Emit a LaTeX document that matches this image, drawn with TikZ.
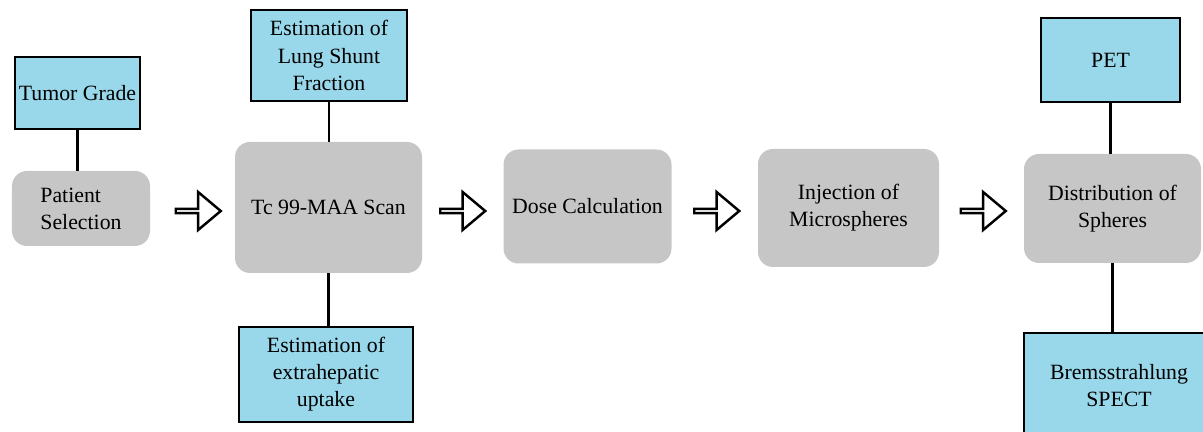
\documentclass[tikz,border=0pt]{standalone}
\usepackage{fontspec}
\setmainfont{Liberation Serif}
\usetikzlibrary{shapes.arrows}
\definecolor{boxblue}{RGB}{153,216,234}
\definecolor{boxgray}{RGB}{198,198,198}

\begin{document}
\begin{tikzpicture}[
    font=\rmfamily\fontsize{12.4}{15.4}\selectfont,
    bluebox/.style={draw, line width=1.6pt, fill=boxblue, align=center, inner sep=2pt},
    graybox/.style={fill=boxgray, rounded corners=0.3cm, align=center},
    link/.style={line width=1.6pt},
    flowarrow/.style={single arrow, draw, line width=1.4pt, fill=white, inner sep=0pt,
      minimum width=0.76cm, minimum height=0.9cm, single arrow head extend=0.2cm,
      single arrow tip angle=80}
  ]
        \useasboundingbox (0,0) rectangle (24.06,-8.64);

        \node[graybox, minimum width=2.76cm, minimum height=1.5cm, align=left] (select) at (1.62,-4.17) {Patient\\Selection};
        \node[graybox, minimum width=3.74cm, minimum height=2.62cm] (scan) at (6.57,-4.15) {Tc 99-MAA Scan};
        \node[graybox, minimum width=3.36cm, minimum height=2.28cm] (dose) at (11.75,-4.13) {Dose Calculation};
        \node[graybox, minimum width=3.62cm, minimum height=2.36cm] (inject) at (16.97,-4.16) {Injection of\\Microspheres};
        \node[graybox, minimum width=3.54cm, minimum height=2.18cm] (spread) at (22.25,-4.17) {Distribution of\\Spheres};

        \node[bluebox, minimum width=2.5cm, minimum height=1.44cm] (grade) at (1.55,-1.86) {Tumor Grade};
        \node[bluebox, minimum width=3.12cm, minimum height=1.82cm] (shunt) at (6.58,-1.11) {Estimation of\\Lung Shunt\\Fraction};
        \node[bluebox, minimum width=3.48cm, minimum height=1.9cm] (uptake) at (6.52,-7.49) {Estimation of\\extrahepatic\\uptake};
        \node[bluebox, minimum width=2.78cm, minimum height=1.68cm] (pet) at (22.21,-1.2) {PET};
        \node[bluebox, minimum width=3.8cm, minimum height=2.1cm] (brems) at (22.38,-7.71) {Bremsstrahlung\\SPECT};

        \draw[link] (grade.south) -- (grade.south |- select.north);
        \draw[link] (shunt.south) -- (shunt.south |- scan.north);
        \draw[link] (scan.south) -- (scan.south |- uptake.north);
        \draw[link] (pet.south) -- (pet.south |- spread.north);
        \draw[link] (spread.south) -- (spread.south |- brems.north);

        \node[flowarrow] (step1) at (3.94,-4.22) {};
        \node[flowarrow] (step2) at (9.23,-4.22) {};
        \node[flowarrow] (step3) at (14.31,-4.22) {};
        \node[flowarrow] (step4) at (19.64,-4.22) {};

      \end{tikzpicture}
\end{document}
